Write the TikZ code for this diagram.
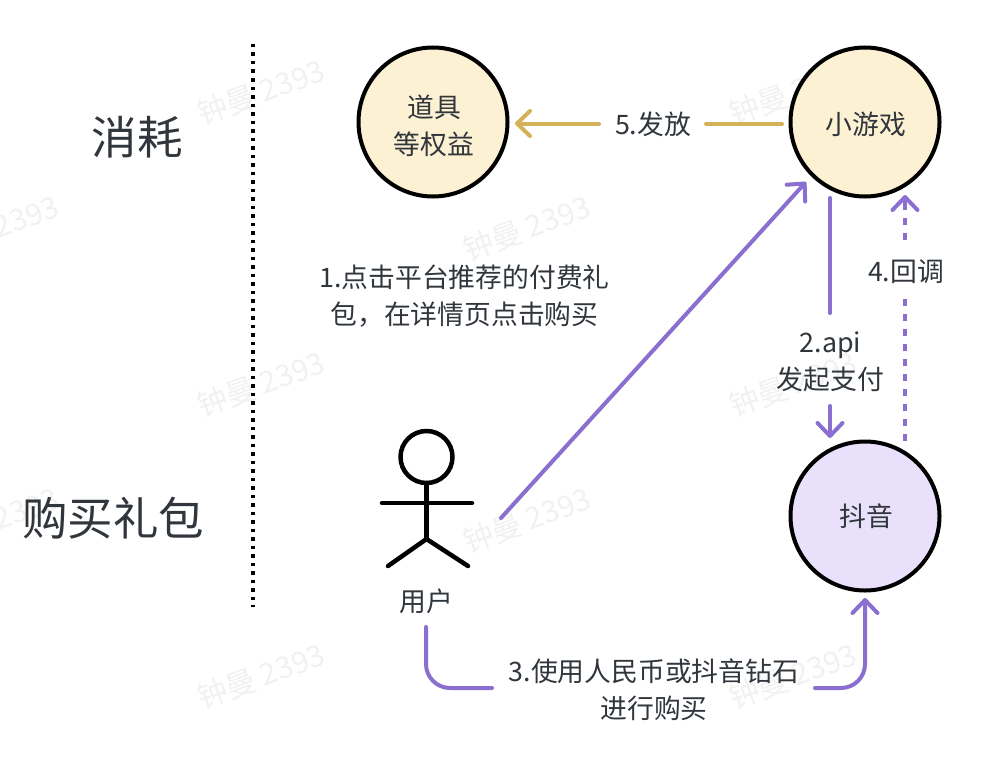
\documentclass[tikz,border=0pt]{standalone}
\usepackage{fontspec}
\setmainfont{Noto Sans CJK SC}
\usetikzlibrary{arrows.meta,calc}
\definecolor{ink}{HTML}{30363C}
\definecolor{lila}{HTML}{8A6FD0}
\definecolor{gold}{HTML}{D4B257}
\definecolor{cream}{HTML}{FDF1D3}
\definecolor{mauve}{HTML}{E9E1FB}
\definecolor{wm}{HTML}{F1F1F1}
\tikzset{
  every node/.style={text=ink},
  ball/.style={circle,draw=black,line width=4pt,minimum size=149pt,inner sep=0pt,outer sep=2pt},
  lbl/.style={inner sep=0pt,outer sep=0pt,align=center,font=\fontsize{26.8}{37}\selectfont},
  big/.style={inner sep=0pt,font=\fontsize{45.5}{50}\selectfont,text=ink},
  mark wm/.style={rotate=20,font=\fontsize{30}{32}\selectfont,text=wm,inner sep=0pt},
  pline/.style={draw=lila,line width=4pt,line cap=round},
  parrow/.style={pline,-{Straight Barb[length=13pt,width=25pt,line width=4pt,round]}},
  gline/.style={draw=gold,line width=4pt,line cap=round},
  garrow/.style={gline,-{Straight Barb[length=13pt,width=25pt,line width=4pt,round]}},
  stick/.style={draw=black,line width=4.5pt,line cap=round,line join=round},
}
\begin{document}
\begin{tikzpicture}[x=1pt,y=-1pt]
\useasboundingbox (0,0) rectangle (998,768);
% watermarks
\foreach \n/\wx/\wy in {w1/261/92,w2/793/92,w3/527/228,w4/-5/228,w5/261/384,w6/793/384,w7/527/520,w8/-5/520,w9/261/676,w10/793/676}
  \node[mark wm] (\n) at (\wx,\wy) {钟曼 2393};
% side labels and divider
\node[big] (consume) at (137,137) {消耗};
\node[big] (buy) at (113,518) {购买礼包};
\coordinate (divtop) at (253,44);
\coordinate (divbot) at (253,607);
\draw[line width=3.5pt,dash pattern=on 3.5pt off 5pt,draw=black] (divtop) -- (divbot);
% circles
\node[ball,fill=cream] (item) at (433,122) {};
\node[ball,fill=cream] (mini) at (865,122) {};
\node[ball,fill=mauve] (dy) at (865,516) {};
\node[lbl] (itemt) at (434,125.5) {道具\\等权益};
\node[lbl] (minit) at (866,124) {小游戏};
\node[lbl] (dyt) at (866,516) {抖音};
% user
\coordinate (headc) at (426.5,457);
\coordinate (hip) at (426.5,539);
\draw[stick] (headc) circle (26);
\draw[stick] (426.5,483) -- (hip);
\draw[stick] (382,503) -- (472,503);
\draw[stick] (388,566) -- (hip) -- (468,566);
\node[lbl] (user) at (426,601) {用户};
% labels
\node[lbl] (l1) at (464.5,296.5) {1.点击平台推荐的付费礼\\包，在详情页点击购买};
\node[lbl] (l5) at (653,124) {5.发放};
\node[lbl] (l2) at (830.5,362) {2.api\\发起支付};
\node[lbl] (l4) at (906,272) {4.回调};
\node[lbl] (l3) at (654,689.5) {3.使用人民币或抖音钻石\\进行购买};
% connectors
\coordinate (g1) at (782,123.5);
\coordinate (g2) at (706,123.5);
\coordinate (g3) at (599,123.5);
\coordinate (g4) at (515,123.5);
\draw[gline] (g1) -- (g2);
\draw[garrow] (g3) -- (g4);
\coordinate (us) at (501,518);
\coordinate (ue) at (806,182);
\draw[parrow] (us) -- (ue);
\coordinate (a2a) at (830,198);
\coordinate (a2b) at (830,313);
\coordinate (a2c) at (830,406);
\coordinate (a2d) at (830,438);
\draw[pline] (a2a) -- (a2b);
\draw[parrow] (a2c) -- (a2d);
\coordinate (d1) at (905,441);
\coordinate (d2) at (905,297);
\coordinate (d3) at (905,240);
\coordinate (d4) at (905,195);
\draw[pline,line cap=butt,dash pattern=on 7pt off 8pt] (d1) -- (d2);
\draw[pline,line cap=butt,dash pattern=on 7pt off 8pt] (d3) -- ($(d4)+(0,8)$);
\draw[parrow,line cap=butt] ($(d4)+(0,8)$) -- (d4);
\coordinate (b1) at (426,627);
\coordinate (b2) at (492,688);
\coordinate (b3) at (815,688);
\coordinate (b4) at (865,598);
\draw[pline,rounded corners=24pt] (b1) |- (b2);
\draw[parrow,rounded corners=24pt] (b3) -| (b4);
\end{tikzpicture}
\end{document}
